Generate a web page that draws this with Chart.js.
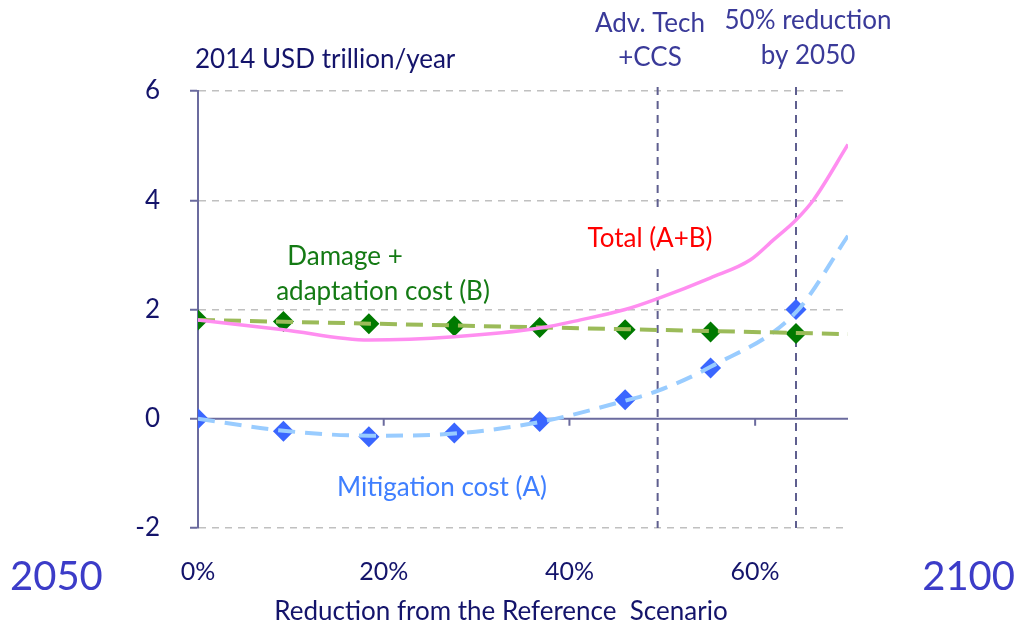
<!DOCTYPE html>
<html>
<head>
<meta charset="utf-8">
<script src="https://cdn.jsdelivr.net/npm/chart.js@4"></script>
<style>
html, body { margin: 0; padding: 0; background: #fff; }
</style>
</head>
<body>
<canvas id="costChart" width="1018" height="628"></canvas>
<script>
// markers (x = % reduction, y = USD trillion/year)
var reductionPct = [0, 9.2, 18.4, 27.6, 36.8, 46, 55.2, 64.4];
var mitigationCost = [0, -0.23, -0.33, -0.26, -0.05, 0.35, 0.93, 2.0];
var damageCost = [1.81, 1.78, 1.74, 1.70, 1.67, 1.63, 1.59, 1.56];

// the smooth curves as drawn
var mitigationCurveX = [0, 9.2, 18.4, 27.6, 36.8, 46, 49.5, 55.2, 64.4, 70];
var mitigationCurveY = [0, -0.22, -0.31, -0.27, -0.06, 0.33, 0.51, 0.95, 1.95, 3.35];
var damageCurveX = [0, 70];
var damageCurveY = [1.81, 1.55];
var totalCurveX = [0, 9.2, 18.4, 27.6, 36.8, 41.2, 46, 49.5, 55.2, 59.5, 62, 64.4, 66.3, 70];
var totalCurveY = [1.81, 1.63, 1.44, 1.50, 1.66, 1.81, 2.0, 2.2, 2.58, 2.91, 3.28, 3.64, 4.01, 5.02];

var yTicks = [-2, 0, 2, 4, 6];
var xTicks = [0, 20, 40, 60];
var markerLines = [49.5, 64.4];

function pts(xs, ys) {
    return xs.map(function (x, i) { return { x: x, y: ys[i] }; });
}

var navy = '#14146b';
var axisColor = '#6b6b9e';

var overlay = {
    id: 'overlay',
    beforeDatasetsDraw: function (chart) {
        var ctx = chart.ctx, xs = chart.scales.x, ys = chart.scales.y, a = chart.chartArea;
        var y0 = ys.getPixelForValue(0);
        ctx.save();
        // zero axis with tick marks
        ctx.strokeStyle = axisColor;
        ctx.lineWidth = 2;
        ctx.beginPath();
        ctx.moveTo(a.left, y0);
        ctx.lineTo(a.right, y0);
        xTicks.forEach(function (v) {
            if (v > 0) {
                var px = xs.getPixelForValue(v);
                ctx.moveTo(px, y0);
                ctx.lineTo(px, y0 + 7);
            }
        });
        ctx.stroke();
        // vertical dashed reference lines
        ctx.setLineDash([8, 6]);
        ctx.strokeStyle = '#5f5f8f';
        ctx.beginPath();
        markerLines.forEach(function (v) {
            var px = xs.getPixelForValue(v);
            ctx.moveTo(px, a.top - 4);
            ctx.lineTo(px, a.bottom);
        });
        ctx.stroke();
        // white box behind the total label
        ctx.fillStyle = '#fff';
        ctx.fillRect(578, 210, 144, 56);
        ctx.restore();
    },
    afterDraw: function (chart) {
        var ctx = chart.ctx;
        function txt(s, x, y, color, size, align) {
            ctx.font = size + 'px Lato';
            ctx.fillStyle = color;
            ctx.textAlign = align || 'center';
            ctx.textBaseline = 'middle';
            ctx.fillText(s, x, y);
        }
        ctx.save();
        txt('2014 USD trillion/year', 195, 60, navy, 26, 'left');
        txt('Adv. Tech', 650, 24, '#3a3a99', 26);
        txt('+CCS', 650, 58, '#3a3a99', 26);
        txt('50% reduction', 808, 21, '#3a3a99', 26);
        txt('by 2050', 808, 56, '#3a3a99', 26);
        txt('Damage +', 345, 257, '#147a14', 26);
        txt('adaptation cost (B)', 383, 292, '#147a14', 26);
        txt('Total (A+B)', 650, 239, '#ff0000', 26);
        txt('Mitigation cost (A)', 442, 488, '#3f7fff', 26);
        txt('2050', 10, 577, '#3c3cc8', 40, 'left');
        txt('2100', 1015, 577, '#3c3cc8', 40, 'right');
        txt('Reduction from the Reference  Scenario', 501, 612, navy, 26);
        ctx.restore();
    }
};

Chart.defaults.font.family = 'Lato';

var ctx = document.getElementById('costChart').getContext('2d');
var costChart = new Chart(ctx, {
    type: 'scatter',
    data: {
        datasets: [
            {
                label: 'Total (A+B)',
                data: pts(totalCurveX, totalCurveY),
                showLine: true,
                borderColor: '#ff8ef0',
                borderWidth: 3.5,
                pointRadius: 0,
                cubicInterpolationMode: 'monotone'
            },
            {
                label: 'Damage curve',
                data: pts(damageCurveX, damageCurveY),
                showLine: true,
                borderColor: '#9bbb59',
                borderWidth: 4,
                borderDash: [17, 9],
                pointRadius: 0
            },
            {
                label: 'Mitigation curve',
                data: pts(mitigationCurveX, mitigationCurveY),
                showLine: true,
                borderColor: '#99ccff',
                borderWidth: 4,
                borderDash: [17, 10],
                pointRadius: 0,
                cubicInterpolationMode: 'monotone'
            },
            {
                label: 'Damage + adaptation cost (B)',
                data: pts(reductionPct, damageCost),
                pointStyle: 'rectRot',
                pointRadius: 10.5,
                backgroundColor: '#007a00',
                borderColor: '#007a00',
                borderWidth: 0
            },
            {
                label: 'Mitigation cost (A)',
                data: pts(reductionPct, mitigationCost),
                pointStyle: 'rectRot',
                pointRadius: 10.5,
                backgroundColor: '#3a66ff',
                borderColor: '#3a66ff',
                borderWidth: 0
            }
        ]
    },
    options: {
        responsive: false,
        animation: false,
        layout: { padding: { top: 91, right: 170, left: 0, bottom: 0 } },
        plugins: {
            legend: { display: false },
            tooltip: { enabled: false }
        },
        scales: {
            x: {
                type: 'linear',
                min: 0,
                max: 70,
                afterFit: function (s) { s.height = 100; },
                afterBuildTicks: function (s) { s.ticks = xTicks.map(function (v) { return { value: v }; }); },
                grid: { display: false, drawTicks: false },
                border: { display: false },
                ticks: {
                    color: navy,
                    font: { size: 25 },
                    padding: 29,
                    maxRotation: 0,
                    callback: function (v) { return v + '%'; }
                }
            },
            y: {
                min: -2,
                max: 6,
                afterFit: function (s) { s.width = 198; },
                afterBuildTicks: function (s) { s.ticks = yTicks.map(function (v) { return { value: v }; }); },
                grid: {
                    color: function (c) { return c.tick && c.tick.value === 0 ? 'rgba(0,0,0,0)' : '#c0c0c0'; },
                    lineWidth: 1.5,
                    tickColor: axisColor,
                    tickLength: 8,
                    tickWidth: 2
                },
                border: { display: true, color: axisColor, width: 2, dash: [7, 6] },
                ticks: {
                    color: navy,
                    font: { size: 26 },
                    padding: 30
                }
            }
        }
    },
    plugins: [overlay]
});
</script>
</body>
</html>
